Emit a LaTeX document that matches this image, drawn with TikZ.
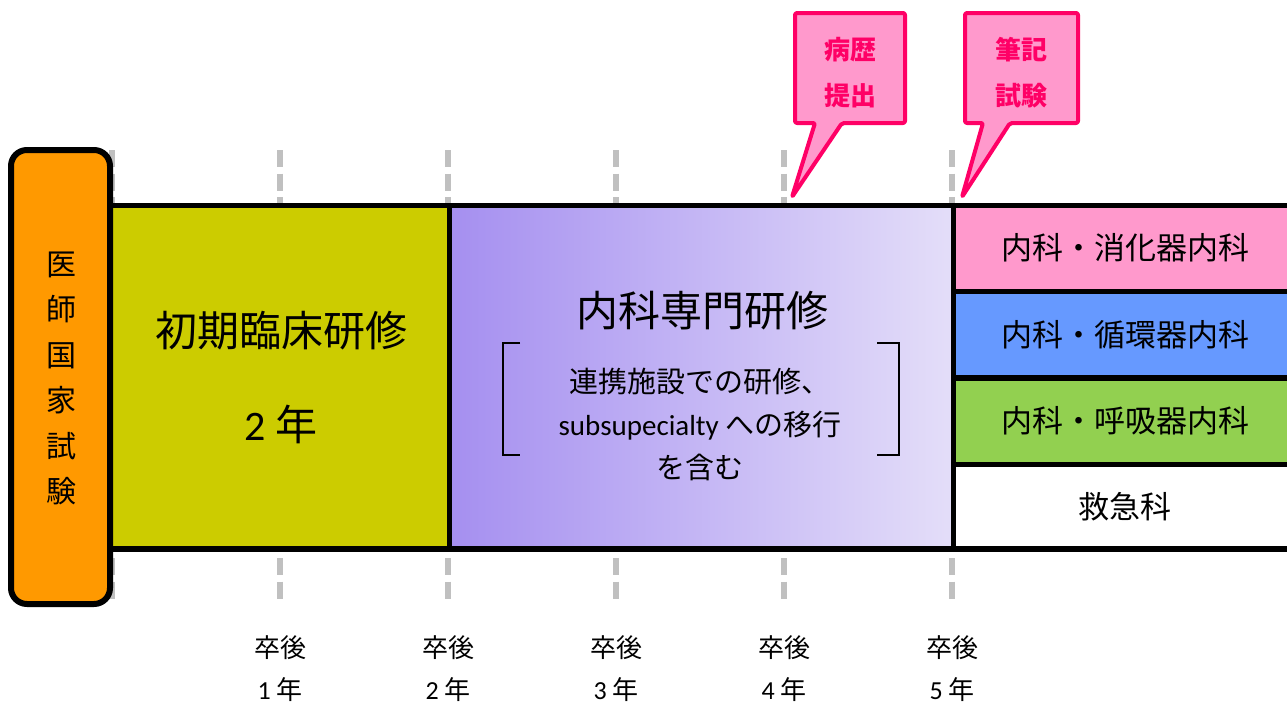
\documentclass[tikz,border=0pt]{standalone}
\usepackage{fontspec}
\setmainfont{Noto Sans CJK JP}
\newfontfamily\lat{Carlito}
\definecolor{orangebox}{HTML}{FF9900}
\definecolor{olivebox}{HTML}{CCCC00}
\definecolor{purpleL}{HTML}{A58FF0}
\definecolor{purpleR}{HTML}{E4DEF9}
\definecolor{pinkbox}{HTML}{FF99CC}
\definecolor{bluebox}{HTML}{6699FF}
\definecolor{greenbox}{HTML}{92D050}
\definecolor{calloutline}{HTML}{FF0066}
\definecolor{tickgray}{HTML}{C0C0C0}
\tikzset{
  tickline/.style={draw=tickgray, line width=6pt, dash pattern=on 17pt off 6.5pt},
  bandline/.style={draw=black, line width=5.5pt},
  callout/.style={draw=calloutline, fill=pinkbox, line width=4pt, line join=round, rounded corners=2pt},
  callouttext/.style={text=calloutline, font=\fontsize{26}{46}\selectfont\bfseries, align=center},
  bigtext/.style={font=\fontsize{42}{50}\selectfont},
  rowtext/.style={font=\fontsize{31}{38}\selectfont},
  subtext/.style={font=\fontsize{29}{43}\selectfont, align=center},
  yeartext/.style={font=\fontsize{26}{30}\selectfont, inner sep=0pt},
}
\begin{document}
\begin{tikzpicture}[x=1pt,y=-1pt]
\useasboundingbox (0,0) rectangle (1287,704);
\clip (0,0) rectangle (1287,704);
\fill[white] (0,0) rectangle (1287,704);
% dashed ticks
\foreach \xx in {112,280,448,616,784,952}{
  \draw[tickline] (\xx,150) -- (\xx,206);
  \draw[tickline] (\xx,558) -- (\xx,604);
}
% boxes
\fill[olivebox] (112,205.5) rectangle (449.5,549);
\shade[left color=purpleL, right color=purpleR] (449.5,205.5) rectangle (953.5,549);
\fill[pinkbox] (953.5,205.5) rectangle (1295,291.5);
\fill[bluebox] (953.5,291.5) rectangle (1295,378);
\fill[greenbox] (953.5,378) rectangle (1295,464.5);
\fill[white] (953.5,464.5) rectangle (1295,549);
% band lines
\draw[bandline] (105,205.5) -- (1295,205.5);
\draw[bandline] (105,549) -- (1295,549);
\draw[bandline] (449.5,205.5) -- (449.5,549);
\draw[bandline] (953.5,205.5) -- (953.5,549);
\draw[bandline] (953.5,291.5) -- (1295,291.5);
\draw[bandline] (953.5,378) -- (1295,378);
\draw[bandline] (953.5,464.5) -- (1295,464.5);
% orange box
\draw[line width=6pt, fill=orangebox, rounded corners=16pt] (11,150) rectangle (110,604);
\node[font=\fontsize{30}{45.4}\selectfont, align=center] (exam) at (61,378.5) {医\\師\\国\\家\\試\\験};
% green text
\node[bigtext] (shoki) at (281,331) {初期臨床研修};
\node[bigtext] (twoyr) at (281,424) {{\lat 2} 年};
% purple text
\node[bigtext] (naika) at (702,311) {内科専門研修};
\draw[line width=2.5pt] (520,343) -- (503,343) -- (503,455) -- (520,455);
\draw[line width=2.5pt] (877,343) -- (899,343) -- (899,455) -- (877,455);
\node[subtext] (renkei) at (700,424) {連携施設での研修、\\{\lat subsupecialty} への移行\\を含む};
% right rows
\node[rowtext] (r1) at (1125,248) {内科・消化器内科};
\node[rowtext] (r2) at (1125,335) {内科・循環器内科};
\node[rowtext] (r3) at (1125,421) {内科・呼吸器内科};
\node[rowtext] (r4) at (1125,507) {救急科};
% year labels
\foreach \xx/\nn in {280/1,448/2,616/3,784/4,952/5}{
  \node[yeartext] (s\nn) at (\xx,648) {卒後};
  \node[yeartext] (y\nn) at (\xx,690) {{\lat \nn} 年};
}
% callouts
\draw[callout] (795,13) -- (905,13) -- (905,123) -- (842,123) -- (792,197) -- (815,123) -- (795,123) -- cycle;
\node[callouttext] (c1) at (850,73) {病歴\\提出};
\draw[callout] (965,13) -- (1078,13) -- (1078,123) -- (1010,123) -- (962,197) -- (983,123) -- (965,123) -- cycle;
\node[callouttext] (c2) at (1021,73) {筆記\\試験};
\end{tikzpicture}
\end{document}
